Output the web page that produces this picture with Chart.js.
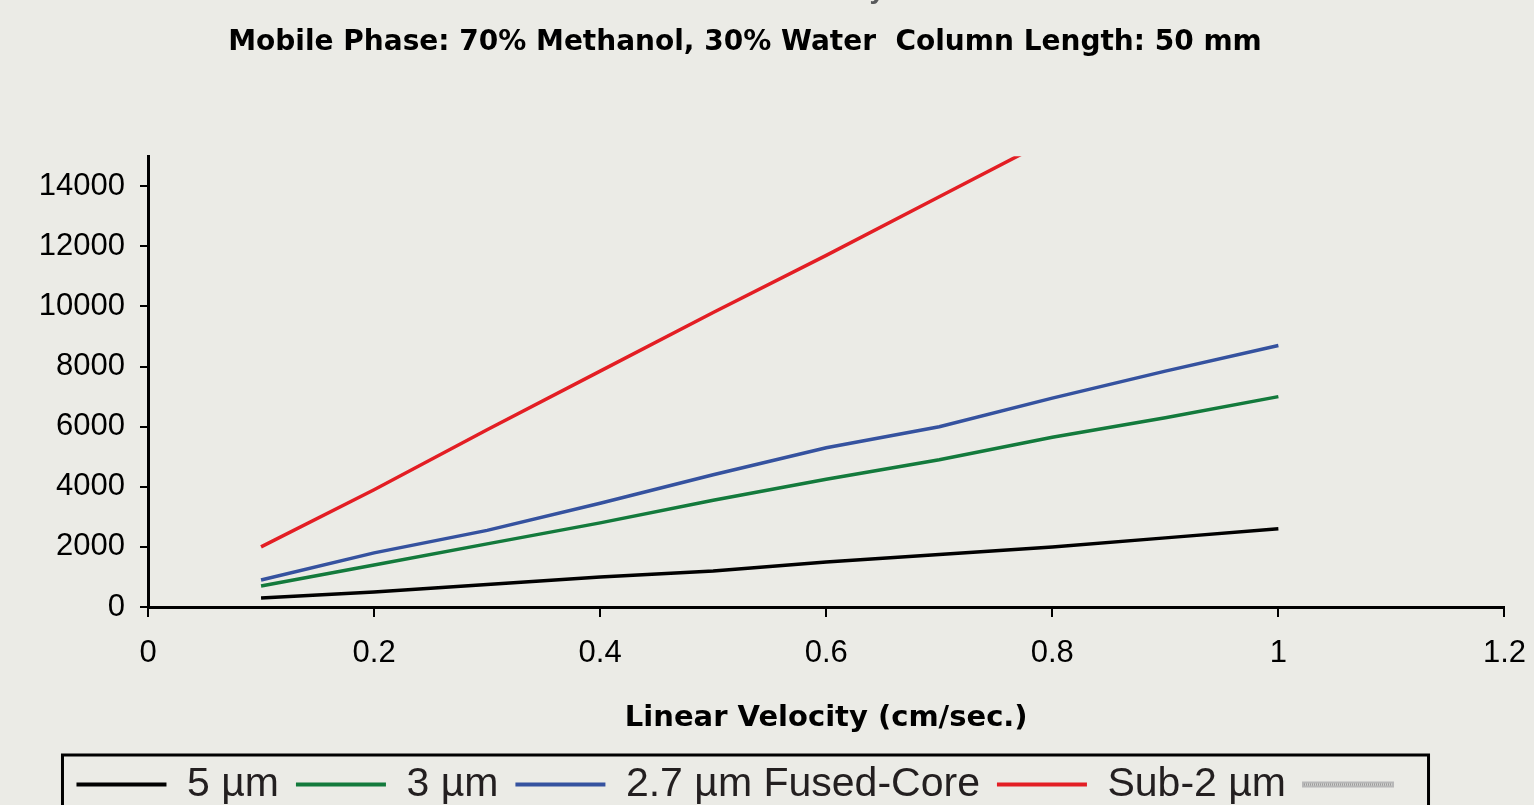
<!DOCTYPE html>
<html>
<head>
<meta charset="utf-8">
<script src="https://cdn.jsdelivr.net/npm/chart.js@4.4.1/dist/chart.umd.min.js"></script>
<style>
body { margin: 0; background: #ebebe6; overflow: hidden; width: 1534px; height: 805px; position: relative; }
#wrap { position: absolute; left: -18px; top: -40px; width: 1562px; height: 855px; }
</style>
</head>
<body>
<div id="wrap"><canvas id="pressureChart"></canvas></div>
<script>
// values
const velocity = [0.1, 0.2, 0.3, 0.4, 0.5, 0.6, 0.7, 0.8, 0.9, 1.0];
const fiveMicron = [300, 500, 750, 1000, 1200, 1500, 1750, 2000, 2300, 2600];
const threeMicron = [700, 1400, 2100, 2800, 3550, 4250, 4900, 5650, 6300, 7000];
const fusedCore = [900, 1800, 2550, 3450, 4400, 5300, 6000, 6950, 7850, 8700];
const subTwo = [2000, 3900, 5900, 7850, 9800, 11700, 13650, 15600];

const seriesNames = ['5 µm', '3 µm', '2.7 µm Fused-Core', 'Sub-2 µm'];
const seriesColors = ['#000000', '#137a3c', '#35529f', '#e31e24'];
const seriesValues = [fiveMicron, threeMicron, fusedCore, subTwo];

const yMax = 15000;
const yStep = 2000;
const xMax = 1.2;
const xStep = 0.2;

// grey hatched swatch for the empty legend entry
function hatch(){
  let c = document.createElement('canvas');
  c.width = 4; c.height = 4;
  let g = c.getContext('2d');
  g.fillStyle = '#d4d4d0';
  g.fillRect(0, 0, 4, 4);
  g.fillStyle = '#9c9c9c';
  g.fillRect(0, 0, 1, 4);
  g.fillRect(2, 0, 1, 4);
  return g.createPattern(c, 'repeat');
}

let datasets = seriesNames.map((name, i) => ({
  label: name,
  data: seriesValues[i].map((v, j) => ({x: velocity[j], y: v})),
  borderColor: seriesColors[i],
  backgroundColor: seriesColors[i],
  borderWidth: 3.5,
  pointRadius: 0,
  tension: 0,
  fill: false
}));

datasets.push({label: '', data: [], borderColor: '#b5b5b5', backgroundColor: '#b5b5b5', pointRadius: 0});

// frame round the legend
const legendFrame = {
  id: 'legendFrame',
  afterDraw(chart){
    let lg = chart.legend;
    let hb = lg.legendHitBoxes;
    if(!hb || !hb.length) return;
    let last = hb[hb.length - 1];
    let x0 = hb[0].left - 14;
    let x1 = last.left + last.width + 15;
    let y0 = lg.top + 8;
    let ctx = chart.ctx;
    ctx.save();
    ctx.lineWidth = 3;
    ctx.strokeStyle = '#000';
    ctx.strokeRect(x0, y0, x1 - x0, chart.height + 20 - y0);
    ctx.restore();
  }
};

const tickFont = {family: '"Liberation Sans", Arial, sans-serif', size: 31};
const pattern = hatch();

new Chart(document.getElementById('pressureChart'), {
  type: 'line',
  data: {datasets: datasets},
  plugins: [legendFrame],
  options: {
    responsive: true,
    maintainAspectRatio: false,
    devicePixelRatio: 1,
    animation: false,
    layout: {padding: {left: 0, right: 36, top: 0, bottom: 0}},
    plugins: {
      tooltip: {enabled: false},
      title: {
        display: true,
        text: 'Pressure vs. Velocity',
        color: '#58595b',
        font: {family: '"Liberation Sans", Arial, sans-serif', weight: 'bold', size: 28},
        padding: {top: 13, bottom: 0}
      },
      subtitle: {
        display: true,
        text: 'Mobile Phase: 70% Methanol, 30% Water  Column Length: 50 mm',
        color: '#000',
        font: {family: '"DejaVu Sans", sans-serif', weight: 'bold', size: 28},
        padding: {top: 19, bottom: 97}
      },
      legend: {
        position: 'bottom',
        align: 'center',
        labels: {
          boxWidth: 90,
          boxHeight: 4,
          padding: 17,
          color: '#231f20',
          font: {family: '"Liberation Sans", Arial, sans-serif', size: 41},
          generateLabels(chart){
            let items = Chart.defaults.plugins.legend.labels.generateLabels(chart);
            items.forEach(it => {
              if(it.text === ''){
                it.fillStyle = pattern;
                it.strokeStyle = '#b8b8b8';
                it.lineWidth = 2;
              } else {
                it.fillStyle = it.strokeStyle;
                it.lineWidth = 0;
              }
            });
            return items;
          }
        }
      }
    },
    scales: {
      x: {
        type: 'linear',
        min: 0,
        max: xMax,
        ticks: {
          stepSize: xStep,
          color: '#000',
          font: tickFont,
          padding: 18,
          maxRotation: 0,
          autoSkip: false,
          callback: v => String(+v.toFixed(1))
        },
        grid: {drawOnChartArea: false, drawTicks: true, tickLength: 10, color: '#000', lineWidth: 2},
        border: {display: true, color: '#000', width: 3},
        title: {
          display: true,
          text: 'Linear Velocity (cm/sec.)',
          color: '#000',
          font: {family: '"DejaVu Sans", sans-serif', weight: 'bold', size: 29},
          padding: {top: 11, bottom: 11}
        }
      },
      y: {
        min: 0,
        max: yMax,
        ticks: {
          count: yMax / 1000 + 1,
          color: '#000',
          font: tickFont,
          padding: 15,
          autoSkip: false,
          callback: v => String(Math.round(v))
        },
        grid: {drawOnChartArea: false, drawTicks: true, tickLength: 8, color: '#000', lineWidth: 2},
        border: {display: true, color: '#000', width: 3},
        afterBuildTicks(scale){
          // keep only the 2000 steps, no label at the top of the axis
          scale.ticks = scale.ticks.filter(t => Math.round(t.value) % yStep === 0);
        },
        afterFit(scale){
          scale.width = 166;
        }
      }
    }
  }
});
</script>
</body>
</html>
